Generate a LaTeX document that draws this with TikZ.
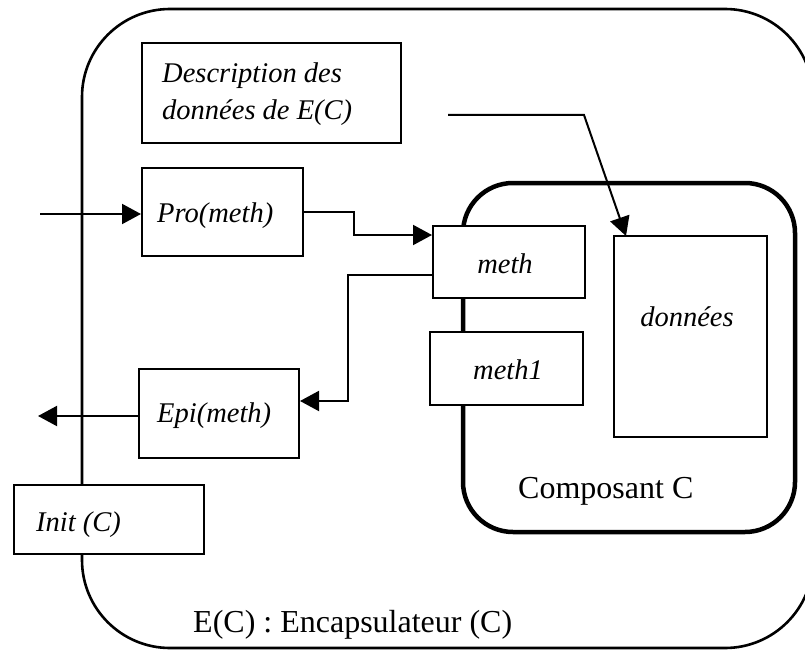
\documentclass[tikz,border=0pt]{standalone}
\usepackage{fontspec}
\setmainfont{Liberation Serif}
\usetikzlibrary{arrows.meta,calc}
\begin{document}
\begin{tikzpicture}[x=1pt,y=-1pt,
  box/.style={draw, line width=2pt, fill=white, inner sep=0pt, anchor=north west},
  conn/.style={line width=2pt},
  arr/.style={conn, -{Triangle[length=19pt,width=20pt]}},
  itx/.style={font=\fontsize{28.5}{34}\selectfont\itshape, inner sep=0pt, anchor=base west},
  itc/.style={font=\fontsize{28.5}{34}\selectfont\itshape, inner sep=0pt, anchor=base},
  rmx/.style={font=\fontsize{32}{38}\selectfont, inner sep=0pt, anchor=base west}]
\useasboundingbox (0,0) rectangle (805,650);
\clip (0,0) rectangle (805,650);
% outer encapsulator
\draw[line width=2.6pt, rounded corners=88pt] (82,9) rectangle (813,648);
% composant C
\draw[line width=4.5pt, rounded corners=50pt] (463,183) rectangle (795,532);
% boxes
\node[box, minimum width=259pt, minimum height=100pt] (desc) at (141,42) {};
\node[box, minimum width=161pt, minimum height=88pt] (pro) at (141,167) {};
\node[box, minimum width=152pt, minimum height=72pt] (meth) at (432,225) {};
\node[box, minimum width=153pt, minimum height=73pt] (meth1) at (429,331) {};
\node[box, minimum width=153pt, minimum height=201pt] (donnees) at (613,235) {};
\node[box, minimum width=160pt, minimum height=89pt] (epi) at (138,368) {};
\node[box, minimum width=190pt, minimum height=69pt] (init) at (13,484) {};
% texts
\node[itx] (t1) at (162,83) {Description des};
\node[itx] (t2) at (162,120) {données de E(C)};
\node[itx] (t3) at (157,222) {Pro(meth)};
\node[itc] (t4) at (505,273) {meth};
\node[itc] (t5) at (508,379) {meth1};
\node[itc] (t6) at (687,326) {données};
\node[itx] (t7) at (157,422) {Epi(meth)};
\node[itx] (t8) at (36,531) {Init (C)};
\node[rmx] (t9) at (518,498) {Composant C};
\node[rmx] (t10) at (193,632) {E(C) : Encapsulateur (C)};
% connectors
\coordinate (inP) at (40,214);
\draw[arr] (inP) -- (inP -| pro.west);
\draw[arr] (pro.east) -- ++(50,0) |- ($(meth.north west)+(0,10)$);
\draw[arr] ($(meth.south west)+(0,-24)$) -- ++(-84,0) |- ($(epi.north east)+(0,33)$);
\coordinate (outE) at (38,416);
\draw[arr] (epi.west |- outE) -- (outE);
\coordinate (dStart) at (448,115);
\draw[arr] (dStart) -- (584,115) -- ($(donnees.north west)+(13,1)$);
\end{tikzpicture}
\end{document}
